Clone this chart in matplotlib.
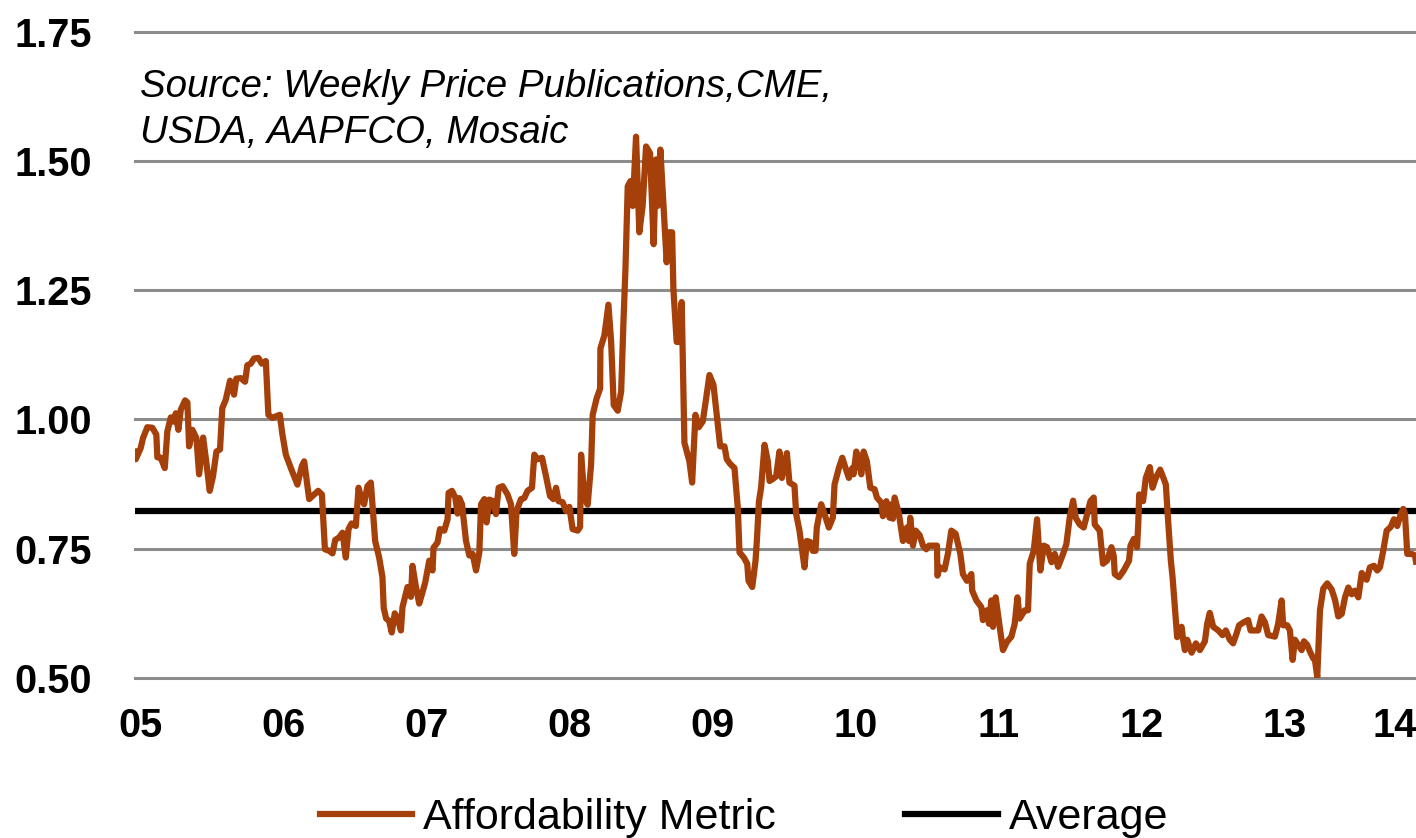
import matplotlib
matplotlib.use("Agg")
import matplotlib.pyplot as plt

# weekly affordability metric
# x = years elapsed since the first observation (last week of Dec 2004)
first_obs = -0.035   # first observation, in years relative to Jan 2005
years_elapsed = [
    0.000, 0.005, 0.040, 0.056, 0.086, 0.121, 0.149, 0.156, 0.180, 0.208,
    0.226, 0.250, 0.268, 0.285, 0.303, 0.320, 0.350, 0.366, 0.378, 0.401,
    0.429, 0.448, 0.476, 0.499, 0.522, 0.545, 0.569, 0.594, 0.610, 0.634,
    0.664, 0.692, 0.708, 0.739, 0.769, 0.785, 0.809, 0.832, 0.862, 0.886,
    0.914, 0.932, 0.960, 0.984, 1.012, 1.030, 1.054, 1.089, 1.135, 1.166,
    1.182, 1.217, 1.252, 1.280, 1.306, 1.327, 1.357, 1.380, 1.399, 1.427,
    1.450, 1.473, 1.492, 1.513, 1.543, 1.562, 1.583, 1.601, 1.624, 1.648,
    1.659, 1.678, 1.706, 1.729, 1.738, 1.755, 1.776, 1.794, 1.815, 1.836,
    1.858, 1.869, 1.904, 1.928, 1.939, 1.963, 1.986, 2.009, 2.028, 2.056,
    2.079, 2.086, 2.114, 2.131, 2.161, 2.184, 2.191, 2.215, 2.238, 2.254,
    2.266, 2.285, 2.313, 2.336, 2.359, 2.383, 2.406, 2.418, 2.441, 2.457,
    2.476, 2.503, 2.522, 2.541, 2.569, 2.603, 2.627, 2.650, 2.666, 2.697,
    2.720, 2.743, 2.774, 2.790, 2.813, 2.844, 2.872, 2.900, 2.923, 2.942,
    2.960, 2.988, 3.012, 3.035, 3.058, 3.093, 3.110, 3.117, 3.140, 3.163,
    3.187, 3.198, 3.226, 3.250, 3.252, 3.280, 3.308, 3.327, 3.345, 3.373,
    3.397, 3.413, 3.427, 3.443, 3.462, 3.478, 3.501, 3.524, 3.547, 3.571,
    3.599, 3.624, 3.641, 3.652, 3.671, 3.699, 3.715, 3.729, 3.753, 3.762,
    3.785, 3.804, 3.820, 3.839, 3.874, 3.893, 3.916, 3.939, 3.967, 3.991,
    4.014, 4.042, 4.072, 4.089, 4.119, 4.135, 4.159, 4.189, 4.212, 4.224,
    4.254, 4.278, 4.287, 4.313, 4.336, 4.346, 4.360, 4.375, 4.399, 4.422,
    4.434, 4.452, 4.480, 4.503, 4.520, 4.555, 4.573, 4.608, 4.620, 4.643,
    4.678, 4.694, 4.718, 4.736, 4.755, 4.764, 4.795, 4.825, 4.848, 4.876,
    4.888, 4.918, 4.942, 4.965, 4.988, 5.012, 5.021, 5.040, 5.058, 5.075,
    5.091, 5.114, 5.138, 5.168, 5.184, 5.215, 5.226, 5.250, 5.273, 5.285,
    5.296, 5.308, 5.338, 5.366, 5.394, 5.408, 5.417, 5.436, 5.455, 5.483,
    5.506, 5.529, 5.548, 5.576, 5.604, 5.607, 5.622, 5.657, 5.680, 5.704,
    5.734, 5.767, 5.785, 5.813, 5.844, 5.850, 5.879, 5.914, 5.925, 5.953,
    5.967, 5.984, 5.995, 6.014, 6.042, 6.065, 6.093, 6.124, 6.147, 6.166,
    6.182, 6.217, 6.240, 6.252, 6.280, 6.303, 6.326, 6.350, 6.373, 6.404,
    6.427, 6.450, 6.485, 6.508, 6.531, 6.555, 6.573, 6.601, 6.629, 6.659,
    6.676, 6.699, 6.706, 6.741, 6.764, 6.792, 6.823, 6.839, 6.846, 6.876,
    6.909, 6.946, 6.956, 6.979, 7.002, 7.010, 7.017, 7.044, 7.063, 7.091,
    7.110, 7.133, 7.163, 7.186, 7.203, 7.219, 7.238, 7.250, 7.282, 7.313,
    7.324, 7.336, 7.352, 7.383, 7.413, 7.441, 7.476, 7.492, 7.510, 7.534,
    7.569, 7.599, 7.622, 7.650, 7.673, 7.697, 7.715, 7.748, 7.778, 7.795,
    7.825, 7.848, 7.872, 7.895, 7.918, 7.949, 7.965, 7.988, 8.012, 8.023,
    8.051, 8.070, 8.089, 8.105, 8.128, 8.152, 8.168, 8.191, 8.210, 8.233,
    8.245, 8.261, 8.280, 8.303, 8.331, 8.362, 8.385, 8.408, 8.432, 8.455,
    8.478, 8.502, 8.524, 8.548, 8.572, 8.587, 8.606, 8.629, 8.657, 8.680,
    8.699, 8.722, 8.746, 8.774, 8.797, 8.820, 8.844, 8.862, 8.874, 8.890,
    8.921, 8.944, 8.951,
]
affordability = [
    0.938, 0.923, 0.945, 0.964, 0.985, 0.984, 0.971, 0.927, 0.926, 0.906,
    0.977, 1.004, 0.996, 1.012, 0.980, 1.019, 1.037, 1.033, 0.948, 0.980,
    0.964, 0.894, 0.965, 0.916, 0.862, 0.890, 0.938, 0.942, 1.022, 1.038,
    1.075, 1.048, 1.079, 1.080, 1.073, 1.105, 1.108, 1.118, 1.119, 1.108,
    1.113, 1.009, 1.003, 1.006, 1.009, 0.971, 0.932, 0.906, 0.874, 0.910,
    0.919, 0.846, 0.855, 0.862, 0.855, 0.749, 0.746, 0.741, 0.767, 0.772,
    0.781, 0.733, 0.788, 0.799, 0.794, 0.868, 0.846, 0.836, 0.871, 0.878,
    0.836, 0.765, 0.733, 0.695, 0.635, 0.615, 0.610, 0.588, 0.625, 0.615,
    0.592, 0.637, 0.676, 0.657, 0.717, 0.676, 0.644, 0.666, 0.685, 0.727,
    0.708, 0.752, 0.762, 0.788, 0.785, 0.807, 0.858, 0.862, 0.849, 0.818,
    0.848, 0.836, 0.765, 0.737, 0.740, 0.708, 0.743, 0.836, 0.846, 0.801,
    0.845, 0.842, 0.817, 0.868, 0.871, 0.855, 0.836, 0.740, 0.823, 0.846,
    0.848, 0.862, 0.868, 0.932, 0.923, 0.926, 0.890, 0.852, 0.846, 0.868,
    0.842, 0.840, 0.823, 0.831, 0.788, 0.785, 0.792, 0.932, 0.849, 0.835,
    0.913, 1.009, 1.041, 1.060, 1.137, 1.163, 1.222, 1.150, 1.028, 1.017,
    1.054, 1.188, 1.291, 1.451, 1.461, 1.413, 1.547, 1.362, 1.413, 1.528,
    1.515, 1.339, 1.503, 1.413, 1.522, 1.381, 1.304, 1.362, 1.362, 1.253,
    1.150, 1.150, 1.227, 0.955, 0.919, 0.878, 1.009, 0.985, 0.996, 1.041,
    1.086, 1.067, 0.990, 0.948, 0.948, 0.923, 0.914, 0.906, 0.829, 0.743,
    0.733, 0.721, 0.688, 0.676, 0.727, 0.769, 0.842, 0.868, 0.951, 0.919,
    0.881, 0.884, 0.890, 0.938, 0.887, 0.935, 0.878, 0.872, 0.817, 0.785,
    0.714, 0.765, 0.763, 0.746, 0.746, 0.791, 0.836, 0.811, 0.791, 0.810,
    0.874, 0.906, 0.926, 0.906, 0.887, 0.906, 0.894, 0.938, 0.919, 0.894,
    0.938, 0.919, 0.868, 0.865, 0.849, 0.839, 0.813, 0.842, 0.810, 0.836,
    0.808, 0.849, 0.817, 0.765, 0.791, 0.765, 0.810, 0.756, 0.785, 0.776,
    0.756, 0.749, 0.756, 0.756, 0.756, 0.698, 0.714, 0.710, 0.740, 0.785,
    0.779, 0.740, 0.701, 0.688, 0.701, 0.669, 0.650, 0.637, 0.612, 0.631,
    0.605, 0.650, 0.599, 0.656, 0.599, 0.554, 0.570, 0.580, 0.605, 0.656,
    0.615, 0.631, 0.631, 0.721, 0.746, 0.807, 0.708, 0.756, 0.753, 0.724,
    0.740, 0.715, 0.740, 0.759, 0.810, 0.843, 0.810, 0.797, 0.791, 0.823,
    0.842, 0.849, 0.797, 0.785, 0.721, 0.727, 0.753, 0.736, 0.701, 0.695,
    0.708, 0.727, 0.756, 0.769, 0.753, 0.797, 0.855, 0.842, 0.887, 0.908,
    0.868, 0.887, 0.903, 0.887, 0.874, 0.804, 0.727, 0.695, 0.579, 0.599,
    0.574, 0.554, 0.574, 0.549, 0.567, 0.554, 0.571, 0.605, 0.626, 0.599,
    0.592, 0.583, 0.592, 0.574, 0.567, 0.586, 0.602, 0.608, 0.612, 0.592,
    0.592, 0.592, 0.619, 0.608, 0.583, 0.581, 0.580, 0.605, 0.650, 0.602,
    0.602, 0.592, 0.535, 0.574, 0.564, 0.554, 0.571, 0.564, 0.551, 0.538,
    0.535, 0.502, 0.631, 0.673, 0.683, 0.671, 0.651, 0.619, 0.624, 0.656,
    0.675, 0.662, 0.669, 0.656, 0.703, 0.695, 0.690, 0.714, 0.717, 0.708,
    0.714, 0.746, 0.785, 0.792, 0.807, 0.794, 0.817, 0.827, 0.817, 0.740,
    0.740, 0.737, 0.725,
]
average_value = 0.823

x_tick_pos = [0, 1, 2, 3, 4, 5, 6, 7, 8, 8.77]
x_tick_labels = ["05", "06", "07", "08", "09", "10", "11", "12", "13", "14"]
y_ticks = [0.50, 0.75, 1.00, 1.25, 1.50, 1.75]

plt.rcParams['font.family'] = ['Liberation Sans', 'DejaVu Sans']

orange = '#A5400B'

x = [first_obs + t for t in years_elapsed]

fig = plt.figure(figsize=(14.16, 8.38), dpi=100)
ax = fig.add_axes([135 / 1416, 160 / 838, 1 - 135 / 1416, (678 - 31.7) / 838])

ax.plot(x, affordability, color=orange, lw=4.5,
        solid_joinstyle='round', zorder=4, label='Affordability Metric')
ax.axhline(average_value, color='black', lw=4.5, zorder=3, label='Average')

ax.set_xlim(first_obs, first_obs + 8.951)
ax.set_ylim(0.5, 1.75)
ax.set_yticks(y_ticks)
ax.set_yticklabels(['%.2f' % v for v in y_ticks])
ax.set_xticks(x_tick_pos)
ax.set_xticklabels(x_tick_labels)

ax.yaxis.grid(True, color='#8c8c8c', lw=2.2)
ax.xaxis.grid(False)
for gl in ax.get_ygridlines():
    gl.set_clip_on(False)
ax.set_axisbelow(True)
for s in ax.spines.values():
    s.set_visible(False)

ax.tick_params(axis='y', length=0, labelsize=28.5, pad=31)
ax.tick_params(axis='x', length=0, labelsize=28.5, pad=21)
for lbl in ax.get_xticklabels() + ax.get_yticklabels():
    lbl.set_fontweight('bold')

fig.text(140 / 1416, 1 - 96.7 / 838, "Source: Weekly Price Publications,CME,",
         fontsize=27.7, style='italic', va='baseline', ha='left')
fig.text(140 / 1416, 1 - 143 / 838, "USDA, AAPFCO, Mosaic",
         fontsize=27.7, style='italic', va='baseline', ha='left')

handles, labels = ax.get_legend_handles_labels()
fig.legend(handles, labels, loc='center', bbox_to_anchor=(744 / 1416, 1 - 818 / 838),
           ncol=2, frameon=False, fontsize=31, handlelength=2.15, handletextpad=0.25,
           columnspacing=3.0, borderpad=0, borderaxespad=0)

fig.savefig('out.png', dpi=100)
